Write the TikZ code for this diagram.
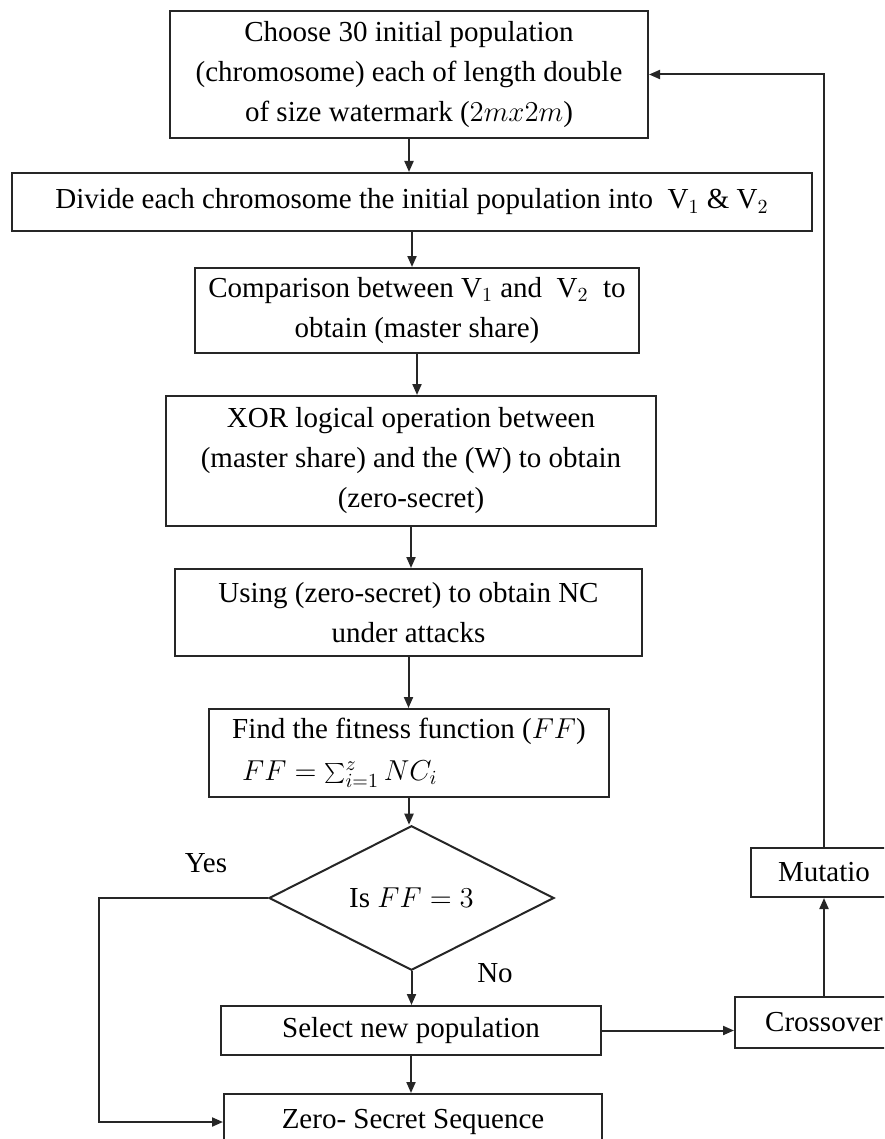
\documentclass[tikz,border=0pt]{standalone}
\usepackage{fontspec}
\setmainfont{Liberation Serif}
\usetikzlibrary{
  shapes.geometric,
  arrows.meta
}
\colorlet{boxLine}{black!85}
\colorlet{flowLine}{black!85}

\begin{document}
\begin{tikzpicture}[
  x=0.5pt,
  y=-0.5pt,
  every node/.style={
    font=\fontsize{14.5}{20}\selectfont,
  },
  every step box/.style={
    draw=boxLine,
    line width=1pt,
    inner sep=0pt,
    align=center,
  },
  stepbox/.style 2 args={
    every step box,
    minimum width=#1,
    minimum height=#2,
  },
  decision/.style={
    every step box,
    diamond,
    minimum width=142.5pt,
    minimum height=62pt,
  },
  flow/.style={
    draw=flowLine,
    line width=1pt,
    -{Triangle[length=5.5pt,width=4.5pt]},
  }
]
\useasboundingbox (0,0) rectangle (884,1139);
\clip (0,0) rectangle (884,1139);
% main column
\node[stepbox={239pt}{63.5pt}] (choose) at (409,74.5)
  {Choose 30 initial population\\(chromosome) each of length double\\of size watermark ($2mx2m$)};
\node[stepbox={400pt}{29pt}] (divide) at (412,202)
  {Divide each chromosome the initial population into\ \ V$_1$ \& V$_2$};
\node[stepbox={222pt}{42.5pt}] (compare) at (417,310.5)
  {Comparison between V$_1$ and\ \ V$_2$\ \ to\\obtain (master share)};
\node[stepbox={245pt}{65pt}] (xor) at (411,461)
  {XOR logical operation between\\(master share) and the (W) to obtain\\(zero-secret)};
\node[stepbox={233.5pt}{43.5pt}] (using) at (408.5,612.5)
  {Using (zero-secret) to obtain NC\\under attacks};
\node[stepbox={200pt}{44pt}, align=left,
  font=\fontsize{14.5}{16}\selectfont] (find) at (409,753)
  {Find the fitness function ($FF$)\\[5pt]\hspace*{5pt}$FF=\sum_{i=1}^{z}NC_i$};
\node[decision] (test) at (411.5,898) {Is $FF=3$};
\node[stepbox={190pt}{24.5pt}] (select) at (411,1030.5) {Select new population};
\node[stepbox={189pt}{28pt}] (zero) at (413,1122) {Zero- Secret Sequence};
% genetic loop
\node[stepbox={89pt}{25.5pt}] (cross) at (824,1022.5) {Crossover};
\node[stepbox={73pt}{24.5pt}] (mutate) at (824,872.5) {Mutatio};
% branch labels
\node (yes) at (206,863) {Yes};
\node (no) at (495,973) {No};

\foreach \a/\b in {choose/divide,divide/compare,compare/xor,xor/using,using/find,find/test,test/select,select/zero} {
  \draw[flow] (\a) -- (\a |- \b.north);
}
\draw[flow] (test.west) -- ++(-169,0) |- (zero.west);
\draw[flow] (select.east) -- (cross.west |- select.east);
\draw[flow] (cross) -- (mutate);
\draw[flow] (mutate.north) |- (choose.east);
\end{tikzpicture}
\end{document}
